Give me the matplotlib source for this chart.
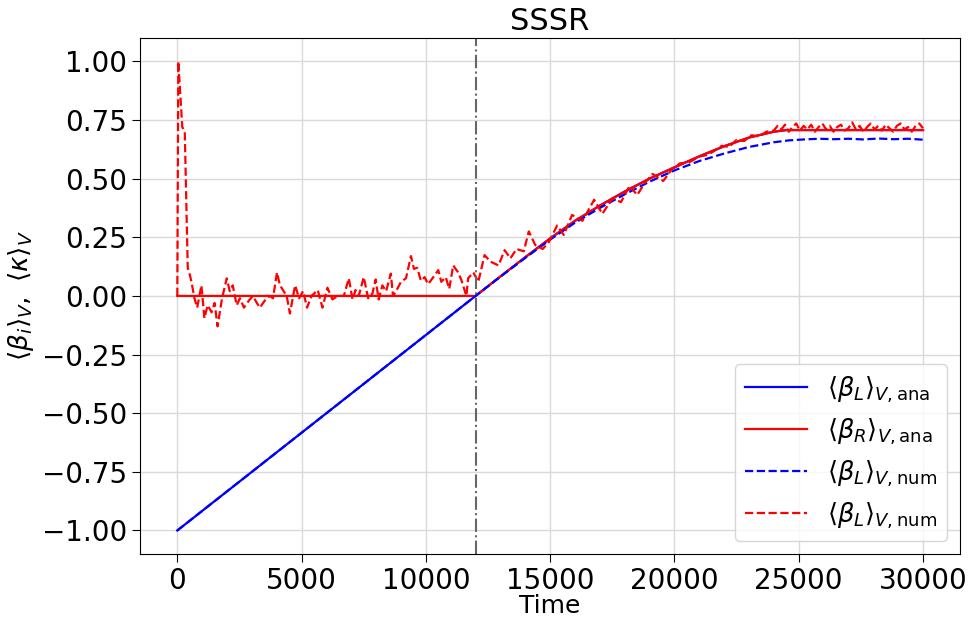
import matplotlib
matplotlib.use("Agg")
from matplotlib import pyplot as plt

# analytic curves (shared rising part after the switch time)
t_switch = 12000
t_ana_L = [0, 12000, 13000, 14000, 15000, 16000, 17000, 18000, 19000,
           20000, 21000, 22000, 23000, 24000, 24500, 30000]
beta_L_ana = [-1.0, 0.0, 0.083, 0.165, 0.245, 0.32, 0.385, 0.445, 0.50,
              0.548, 0.595, 0.638, 0.675, 0.700, 0.707, 0.707]
t_ana_R = [0, 12000, 13000, 14000, 15000, 16000, 17000, 18000, 19000,
           20000, 21000, 22000, 23000, 24000, 24500, 30000]
beta_R_ana = [0.0, 0.0, 0.083, 0.165, 0.245, 0.32, 0.385, 0.445, 0.50,
              0.548, 0.595, 0.638, 0.675, 0.700, 0.707, 0.707]

# numerical results
t_num_L = [0, 12000, 13000, 14000, 15000, 16000, 17000, 18000, 19000,
           20000, 21000, 22000, 23000, 24000, 24600, 25200, 25800, 26400,
           27000, 27600, 28200, 28800, 29400, 30000]
beta_L_num = [-1.0, 0.0, 0.082, 0.162, 0.240, 0.312, 0.375, 0.433, 0.487,
              0.535, 0.575, 0.607, 0.635, 0.655, 0.663, 0.667, 0.670, 0.668,
              0.670, 0.667, 0.671, 0.668, 0.670, 0.666]

t_num_R = [0, 40, 200, 300, 420, 480, 570, 690, 800, 970, 1090, 1220, 1380,
           1500, 1620, 1800, 1990, 2110, 2230, 2390, 2520, 2680, 2880, 3040,
           3200, 3320, 3520, 3720, 3850, 4010, 4130, 4400, 4530, 4740, 4900,
           5060, 5220, 5400, 5650, 5840, 6040, 6240, 6450, 6700, 6900, 7050,
           7170, 7300, 7500, 7680, 7850, 7980, 8100, 8250, 8400, 8590, 8680,
           8800, 9000, 9200, 9400, 9520, 9650, 9800, 9950, 10090, 10300,
           10500, 10620, 10800, 10940, 11100, 11300, 11430, 11630, 11700,
           11910, 12110, 12360, 12600, 12920, 13170, 13400, 13650, 13940,
           14140, 14400, 14700, 14950, 15280, 15550, 15880, 16300, 16770,
           17100, 17500, 17850, 18200, 18500, 18800, 19120, 19550, 19900,
           20220, 20600, 21030, 21300, 21560, 21900, 22200, 22500, 22800,
           23100, 23400, 23700, 24000, 24150, 24300, 24450, 24600, 24750,
           24900, 25050, 25200, 25350, 25500, 25650, 25800, 25950, 26100,
           26250, 26400, 26550, 26700, 26850, 27000, 27150, 27300, 27450,
           27600, 27750, 27900, 28050, 28200, 28350, 28500, 28650, 28800,
           28950, 29100, 29250, 29400, 29550, 29700, 29850, 30000]
beta_R_num = [0.0, 1.0, 0.72, 0.70, 0.12, 0.10, 0.06, -0.01, -0.05, 0.045,
              -0.095, -0.04, -0.07, -0.03, -0.13, -0.01, 0.075, 0.02, 0.045,
              -0.04, -0.01, -0.05, -0.02, 0.0, -0.03, -0.05, -0.02, 0.0,
              -0.01, 0.10, 0.045, 0.0, -0.075, 0.045, -0.01, 0.02, -0.05,
              0.0, 0.025, -0.05, 0.035, -0.015, 0.0, 0.0, 0.075, -0.015,
              0.025, 0.0, 0.08, -0.01, 0.01, 0.07, -0.015, 0.045, 0.02,
              0.095, 0.0, 0.02, 0.06, 0.075, 0.17, 0.115, 0.12, 0.065, 0.08,
              0.05, 0.08, 0.11, 0.06, 0.08, 0.03, 0.13, 0.10, 0.067, 0.0,
              0.075, 0.10, 0.06, 0.174, 0.146, 0.13, 0.195, 0.16, 0.20, 0.19,
              0.275, 0.217, 0.20, 0.23, 0.30, 0.26, 0.345, 0.32, 0.41, 0.35,
              0.415, 0.40, 0.47, 0.43, 0.48, 0.52, 0.49, 0.54, 0.565, 0.57,
              0.595, 0.60, 0.615, 0.64, 0.635, 0.665, 0.66, 0.685, 0.68, 0.70,
              0.705, 0.725, 0.71, 0.73, 0.70, 0.72, 0.735, 0.705, 0.725,
              0.71, 0.73, 0.70, 0.72, 0.735, 0.71, 0.725, 0.70, 0.72, 0.73,
              0.705, 0.715, 0.74, 0.71, 0.725, 0.70, 0.72, 0.735, 0.71,
              0.725, 0.705, 0.73, 0.715, 0.70, 0.725, 0.735, 0.71, 0.72,
              0.70, 0.725, 0.735, 0.715]


def main():
    fig = plt.figure(figsize=(9.69, 6.21), dpi=100)
    ax = fig.add_axes([0.1445, 0.108, 0.8465, 0.831])

    ax.plot(t_ana_L, beta_L_ana, color='b', lw=1.6,
            label=r'$\langle\beta_L\rangle_{V,\mathrm{ana}}$')
    ax.plot(t_ana_R, beta_R_ana, color='r', lw=1.6,
            label=r'$\langle\beta_R\rangle_{V,\mathrm{ana}}$')
    ax.plot(t_num_L, beta_L_num, color='b', ls='--', lw=1.6,
            label=r'$\langle\beta_L\rangle_{V,\mathrm{num}}$')
    ax.plot(t_num_R, beta_R_num, color='r', ls='--', lw=1.6,
            label=r'$\langle\beta_L\rangle_{V,\mathrm{num}}$')
    ax.axvline(t_switch, color='0.4', ls='-.', lw=1.5)

    ax.grid(True, color='0.85', lw=1)
    ax.set_axisbelow(True)
    ax.set_xticks([0, 5000, 10000, 15000, 20000, 25000, 30000])
    ax.tick_params(labelsize=20, length=6)
    ax.set_title('SSSR', fontsize=22, pad=6)
    ax.set_xlabel('Time', fontsize=18, labelpad=-1)
    ax.set_ylabel(r'$\langle\beta_i\rangle_V,\ \langle\kappa\rangle_V$',
                  fontsize=19, labelpad=4)
    ax.legend(loc='lower right', fontsize=18.5, handlelength=2.4,
              labelspacing=0.45)

    fig.savefig('out.png', dpi=100)


if __name__ == '__main__':
    main()
